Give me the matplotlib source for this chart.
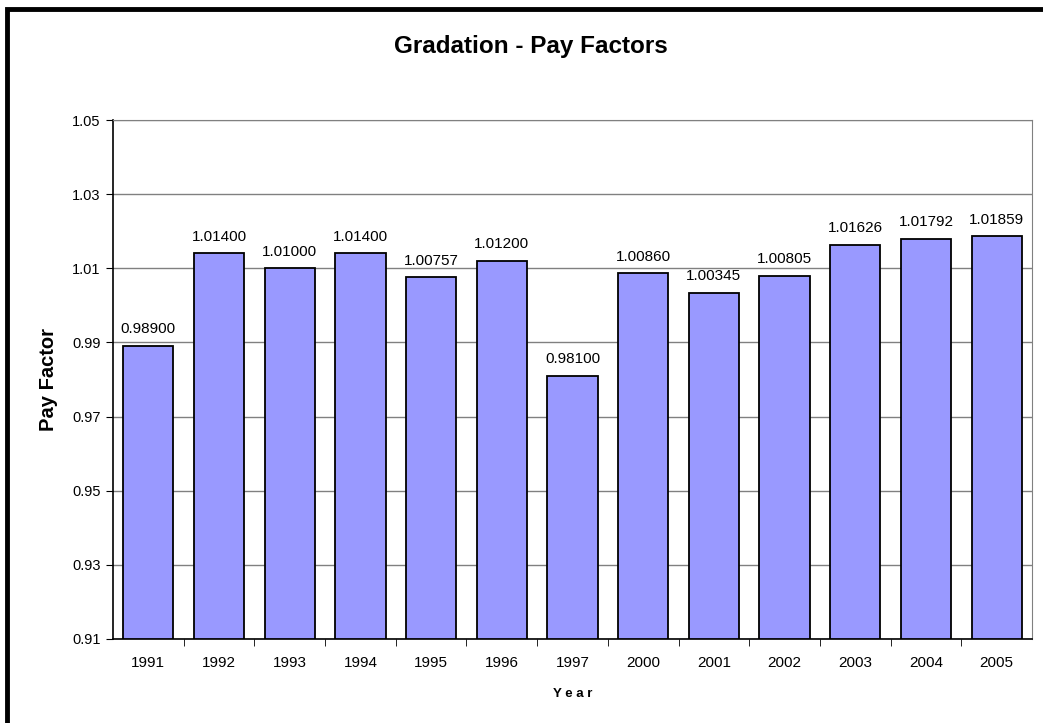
import matplotlib
matplotlib.use("Agg")
import matplotlib.pyplot as plt
from matplotlib.patches import Rectangle

years = ["1991", "1992", "1993", "1994", "1995", "1996", "1997",
         "2000", "2001", "2002", "2003", "2004", "2005"]
pay_factors = [0.98900, 1.01400, 1.01000, 1.01400, 1.00757, 1.01200, 0.98100,
               1.00860, 1.00345, 1.00805, 1.01626, 1.01792, 1.01859]
y_ticks = [0.91, 0.93, 0.95, 0.97, 0.99, 1.01, 1.03, 1.05]

plt.rcParams["font.family"] = ["Liberation Sans", "DejaVu Sans"]

W, H = 1043, 723
fig = plt.figure(figsize=(W / 100, H / 100), dpi=100)
ax = fig.add_axes([113 / W, 1 - 639 / H, (1032 - 113) / W, (639 - 120) / H])

# outer chart frame (only top/left edges fall inside the picture)
fig.patches.append(Rectangle((7 / W, -0.05), 1.2, 1 - 9 / H + 0.05, transform=fig.transFigure,
                             fill=False, edgecolor="black", linewidth=3.5, zorder=0))

x = range(len(years))
ax.bar(x, [v - 0.91 for v in pay_factors], bottom=0.91, width=0.71,
       color="#9999FF", edgecolor="black", linewidth=1.3, zorder=3)
for i, v in zip(x, pay_factors):
    ax.annotate(f"{v:.5f}", (i, v), xytext=(0, 7), textcoords="offset points",
                ha="center", va="bottom", fontsize=11)

ax.set_xlim(-0.5, len(years) - 0.5)
ax.set_ylim(0.91, 1.05)
ax.set_yticks(y_ticks)
ax.set_yticklabels([f"{t:.2f}" for t in y_ticks], fontsize=10.5)
ax.set_xticks(x)
ax.set_xticklabels(years, fontsize=11)
ax.set_xticks([i + 0.5 for i in range(len(years) - 1)], minor=True)
ax.tick_params(axis="x", which="major", length=0, pad=12)
ax.tick_params(axis="x", which="minor", length=5, direction="out")
ax.tick_params(axis="y", length=5, direction="out", pad=4)
ax.yaxis.grid(True, color="#808080", linewidth=1.0, zorder=0)
ax.set_axisbelow(True)

for s in ("top", "right"):
    ax.spines[s].set_color("#808080")
for s in ("left", "bottom"):
    ax.spines[s].set_color("black")
    ax.spines[s].set_linewidth(1.2)

ax.set_ylabel("Pay Factor", fontsize=14.5, fontweight="bold", labelpad=10)
ax.set_xlabel("Y e a r", fontsize=9.5, fontweight="bold", labelpad=13)
fig.text(531 / W, 1 - 47 / H, "Gradation - Pay Factors",
         ha="center", va="center", fontsize=17.5, fontweight="bold")

fig.savefig("out.png", dpi=100)
